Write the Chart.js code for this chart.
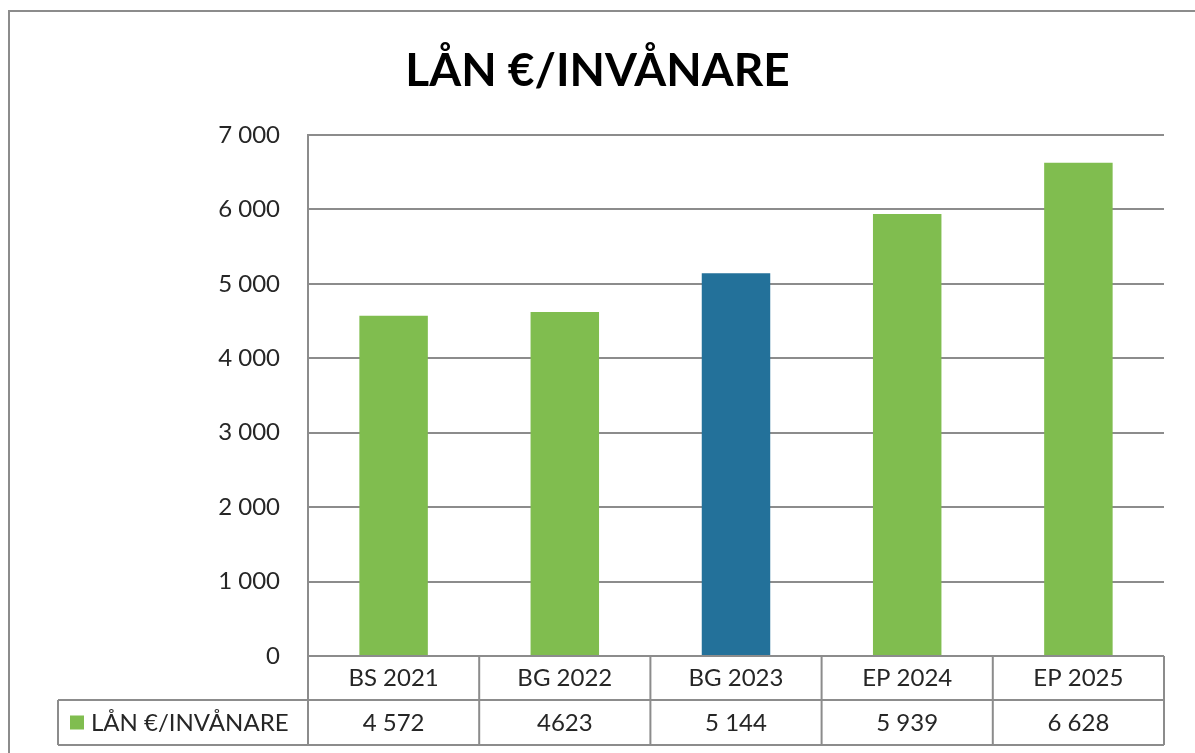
<!DOCTYPE html>
<html>
<head>
<meta charset="utf-8">
<script src="https://cdn.jsdelivr.net/npm/chart.js@4.4.1/dist/chart.umd.min.js"></script>
<style>
  html, body { margin: 0; padding: 0; background: #ffffff; }
  #wrap { position: relative; width: 1195px; height: 753px; }
</style>
</head>
<body>
<div id="wrap"><canvas id="c"></canvas></div>
<script>
// ---- data ----
const chartTitle = 'LÅN €/INVÅNARE';
const seriesName = 'LÅN €/INVÅNARE';
const categories = ['BS 2021', 'BG 2022', 'BG 2023', 'EP 2024', 'EP 2025'];
const values = [4572, 4623, 5144, 5939, 6628];
const valueLabels = ['4 572', '4623', '5 144', '5 939', '6 628'];
const barColors = ['#80bd4f', '#80bd4f', '#23719a', '#80bd4f', '#80bd4f'];
const seriesColor = '#80bd4f';
const yMin = 0, yMax = 7000, yStep = 1000;

const FONT = 'Lato, "Open Sans", sans-serif';
const GRID = '#8c8c8c';
const TEXT = '#262626';

function fmt(v) {
  return String(v).replace(/\B(?=(\d{3})+(?!\d))/g, ' ');
}

const tablePlugin = {
  id: 'dataTable',
  beforeDraw(chart) {
    const ctx = chart.ctx;
    ctx.save();
    ctx.strokeStyle = GRID;
    ctx.lineWidth = 2;
    ctx.beginPath();
    ctx.moveTo(9, chart.height);
    ctx.lineTo(9, 11);
    ctx.lineTo(chart.width, 11);
    ctx.stroke();
    ctx.restore();
  },
  afterDraw(chart) {
    const ctx = chart.ctx;
    const area = chart.chartArea;
    const xs = chart.scales.x;
    const n = categories.length;
    const cw = (area.right - area.left) / n;
    const top = area.bottom;
    const r1 = top + 44;
    const r2 = top + 89;
    const legLeft = 58;
    ctx.save();
    ctx.strokeStyle = GRID;
    ctx.lineWidth = 2;
    ctx.beginPath();
    ctx.moveTo(legLeft, r1); ctx.lineTo(area.right, r1);
    ctx.moveTo(legLeft, r2); ctx.lineTo(area.right, r2);
    for (let i = 0; i <= n; i++) {
      const x = area.left + i * cw;
      ctx.moveTo(x, top); ctx.lineTo(x, r2);
    }
    ctx.moveTo(legLeft, r1); ctx.lineTo(legLeft, r2);
    ctx.stroke();

    ctx.fillStyle = TEXT;
    ctx.font = '24px ' + FONT;
    ctx.textAlign = 'center';
    ctx.textBaseline = 'middle';
    const ym = (r1 + r2) / 2;
    for (let i = 0; i < n; i++) {
      ctx.fillText(valueLabels[i], xs.getPixelForValue(i), ym + 1);
    }
    ctx.fillStyle = seriesColor;
    ctx.fillRect(70, ym - 7, 14, 14);
    ctx.fillStyle = TEXT;
    ctx.textAlign = 'left';
    ctx.fillText(seriesName, 91, ym + 1);
    ctx.restore();
  }
};

new Chart(document.getElementById('c'), {
  type: 'bar',
  data: {
    labels: categories,
    datasets: [{
      label: seriesName,
      data: values,
      backgroundColor: barColors,
      borderWidth: 0,
      barPercentage: 0.4,
      categoryPercentage: 1.0
    }]
  },
  options: {
    responsive: true,
    maintainAspectRatio: false,
    animation: false,
    layout: { padding: { left: 0, right: 0, top: 0, bottom: 0 } },
    plugins: {
      legend: { display: false },
      tooltip: { enabled: false },
      title: {
        display: true,
        text: chartTitle,
        color: '#000000',
        font: { family: FONT, size: 46, weight: 'bold', lineHeight: 1 },
        padding: { top: 48, bottom: 41 }
      }
    },
    scales: {
      x: {
        grid: { display: false, drawTicks: false },
        border: { display: false },
        ticks: { color: TEXT, font: { family: FONT, size: 24 }, padding: 8, maxRotation: 0 },
        afterFit(scale) { scale.height = 97; }
      },
      y: {
        min: yMin, max: yMax,
        grid: { color: GRID, lineWidth: 2, drawTicks: false },
        border: { display: true, color: GRID, width: 2 },
        ticks: {
          stepSize: yStep,
          color: TEXT,
          font: { family: FONT, size: 24 },
          padding: 28,
          callback: (v) => fmt(v)
        },
        afterFit(scale) { scale.width = 308; }
      },
      yRight: {
        position: 'right',
        min: yMin, max: yMax,
        grid: { display: false, drawTicks: false },
        border: { display: false },
        ticks: { display: false },
        afterFit(scale) { scale.width = 31; }
      }
    }
  },
  plugins: [tablePlugin]
});
</script>
</body>
</html>
